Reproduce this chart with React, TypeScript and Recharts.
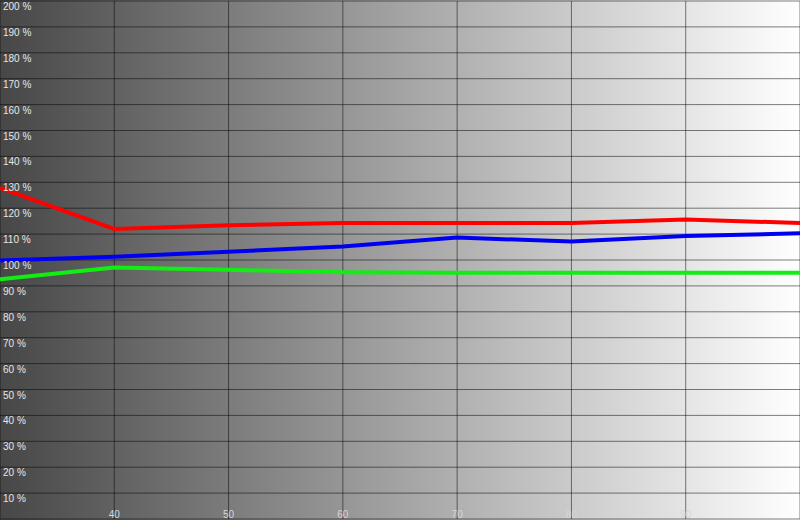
import { LineChart, Line, XAxis, YAxis, CartesianGrid } from "recharts";

const levels = [30, 40, 50, 60, 70, 80, 90, 100];
const red = [127.8, 112.0, 113.4, 114.3, 114.3, 114.3, 115.6, 114.3];
const green = [92.6, 97.1, 96.2, 95.3, 95.1, 95.1, 95.1, 95.1];
const blue = [99.8, 101.3, 103.2, 105.2, 108.7, 107.1, 109.3, 110.3];

const xTicks = [40, 50, 60, 70, 80, 90];
const yTicks = [10, 20, 30, 40, 50, 60, 70, 80, 90, 100, 110, 120, 130, 140, 150, 160, 170, 180, 190, 200];

const data = levels.map((level, i) => ({ level, red: red[i], green: green[i], blue: blue[i] }));

const YTick = (props: any) => {
  const { y, payload } = props;
  return (
    <text x={3} y={y + 9} fill="#e6e6e6" fontSize={10} fontFamily="'Liberation Sans', Arial, sans-serif">
      {payload.value} %
    </text>
  );
};

const XTick = (props: any) => {
  const { x, payload } = props;
  return (
    <text x={x} y={518} fill="#d6d6d6" fontSize={10} textAnchor="middle" fontFamily="'Liberation Sans', Arial, sans-serif">
      {payload.value}
    </text>
  );
};

export default function App() {
  return (
    <div
      style={{
        position: "absolute",
        top: 0,
        left: 0,
        width: 800,
        height: 520,
        background: "linear-gradient(to right, #474747 0%, #ffffff 100%)",
      }}
    >
      <LineChart width={800} height={520} data={data} margin={{ top: 1, right: 0, bottom: 1, left: 0 }}>
        <CartesianGrid stroke="rgba(0,0,0,0.5)" strokeWidth={1} />
        <XAxis
          dataKey="level"
          type="number"
          domain={[30, 100]}
          ticks={xTicks}
          interval={0}
          axisLine={false}
          tickLine={false}
          mirror
          height={20}
          tick={<XTick />}
        />
        <YAxis
          type="number"
          domain={[0, 200]}
          ticks={yTicks}
          interval={0}
          axisLine={false}
          tickLine={false}
          mirror
          width={40}
          tick={<YTick />}
        />
        <Line type="linear" dataKey="red" stroke="#ff0000" strokeWidth={4} dot={false} isAnimationActive={false} />
        <Line type="linear" dataKey="blue" stroke="#0000f0" strokeWidth={4} dot={false} isAnimationActive={false} />
        <Line type="linear" dataKey="green" stroke="#11ee11" strokeWidth={4} dot={false} isAnimationActive={false} />
      </LineChart>
    </div>
  );
}
